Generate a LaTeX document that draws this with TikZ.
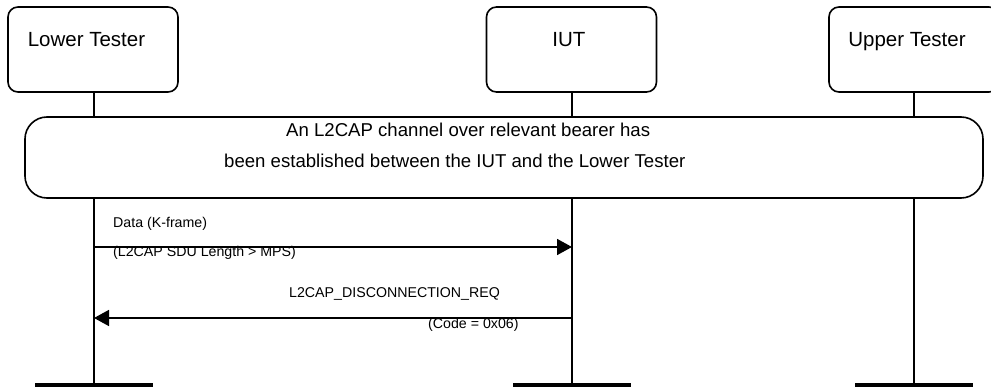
\documentclass[tikz,border=0pt]{standalone}
\usepackage{fontspec}
\setmainfont{Liberation Sans}
\usetikzlibrary{arrows.meta}
\begin{document}
\begin{tikzpicture}[x=1pt,y=-1pt,
  entity/.style={draw, line width=1.6pt, rounded corners=10pt, minimum width=170pt, minimum height=85pt, inner sep=0pt},
  headtext/.style={anchor=base, inner sep=0pt, font=\fontsize{20.5}{24}\selectfont},
  lifeline/.style={line width=1.6pt},
  endbar/.style={line width=4pt},
  condbox/.style={draw, fill=white, line width=1.6pt, rounded corners=22pt, inner sep=0pt},
  condtext/.style={anchor=base west, inner sep=0pt, font=\fontsize{18.6}{22}\selectfont},
  msgtext/.style={inner sep=0pt, font=\fontsize{14.2}{17}\selectfont},
  msg/.style={line width=1.6pt, -{Triangle[length=15pt,width=16pt]}}]
\useasboundingbox (0,0) rectangle (991,390);
% entities
\node[entity] (lt) at (93,49.5) {};
\node[entity] (iut) at (571.5,49.5) {};
\node[entity] (ut) at (914,49.5) {};
\node[headtext] (ltt) at (86.5,46.7) {Lower Tester};
\node[headtext] (iutt) at (569,46.7) {IUT};
\node[headtext] (utt) at (907,46.7) {Upper Tester};
% lifeline bottoms
\coordinate (ltb) at (94,385);
\coordinate (iutb) at (572,385);
\coordinate (utb) at (914,385);
\draw[lifeline] (lt.south -| ltb) -- (ltb);
\draw[lifeline] (iut.south -| iutb) -- (iutb);
\draw[lifeline] (ut.south -| utb) -- (utb);
\draw[endbar] ([xshift=-59pt]ltb) -- ([xshift=59pt]ltb);
\draw[endbar] ([xshift=-59pt]iutb) -- ([xshift=59pt]iutb);
\draw[endbar] ([xshift=-59pt]utb) -- ([xshift=59pt]utb);
% condition box
\node[condbox, minimum width=958pt, minimum height=81pt] (cond) at (504,157.5) {};
\node[condtext] (c1) at (286,136.7) {An L2CAP channel over relevant bearer has};
\node[condtext] (c2) at (224,168) {been established between the IUT and the Lower Tester};
% messages
\coordinate (m1s) at (94,247);
\coordinate (m1e) at (572,247);
\draw[msg] (m1s) -- (m1e);
\node[msgtext, anchor=base west] (m1a) at (113,228) {Data (K-frame)};
\node[msgtext, anchor=base west] (m1b) at (113,257) {(L2CAP SDU Length > MPS)};
\coordinate (m2s) at (572,318);
\coordinate (m2e) at (94,318);
\draw[msg] (m2s) -- (m2e);
\node[msgtext, anchor=base west] (m2a) at (289,298) {L2CAP\_DISCONNECTION\_REQ};
\node[msgtext, anchor=base west] (m2b) at (428,328) {(Code = 0x06)};
\end{tikzpicture}
\end{document}
